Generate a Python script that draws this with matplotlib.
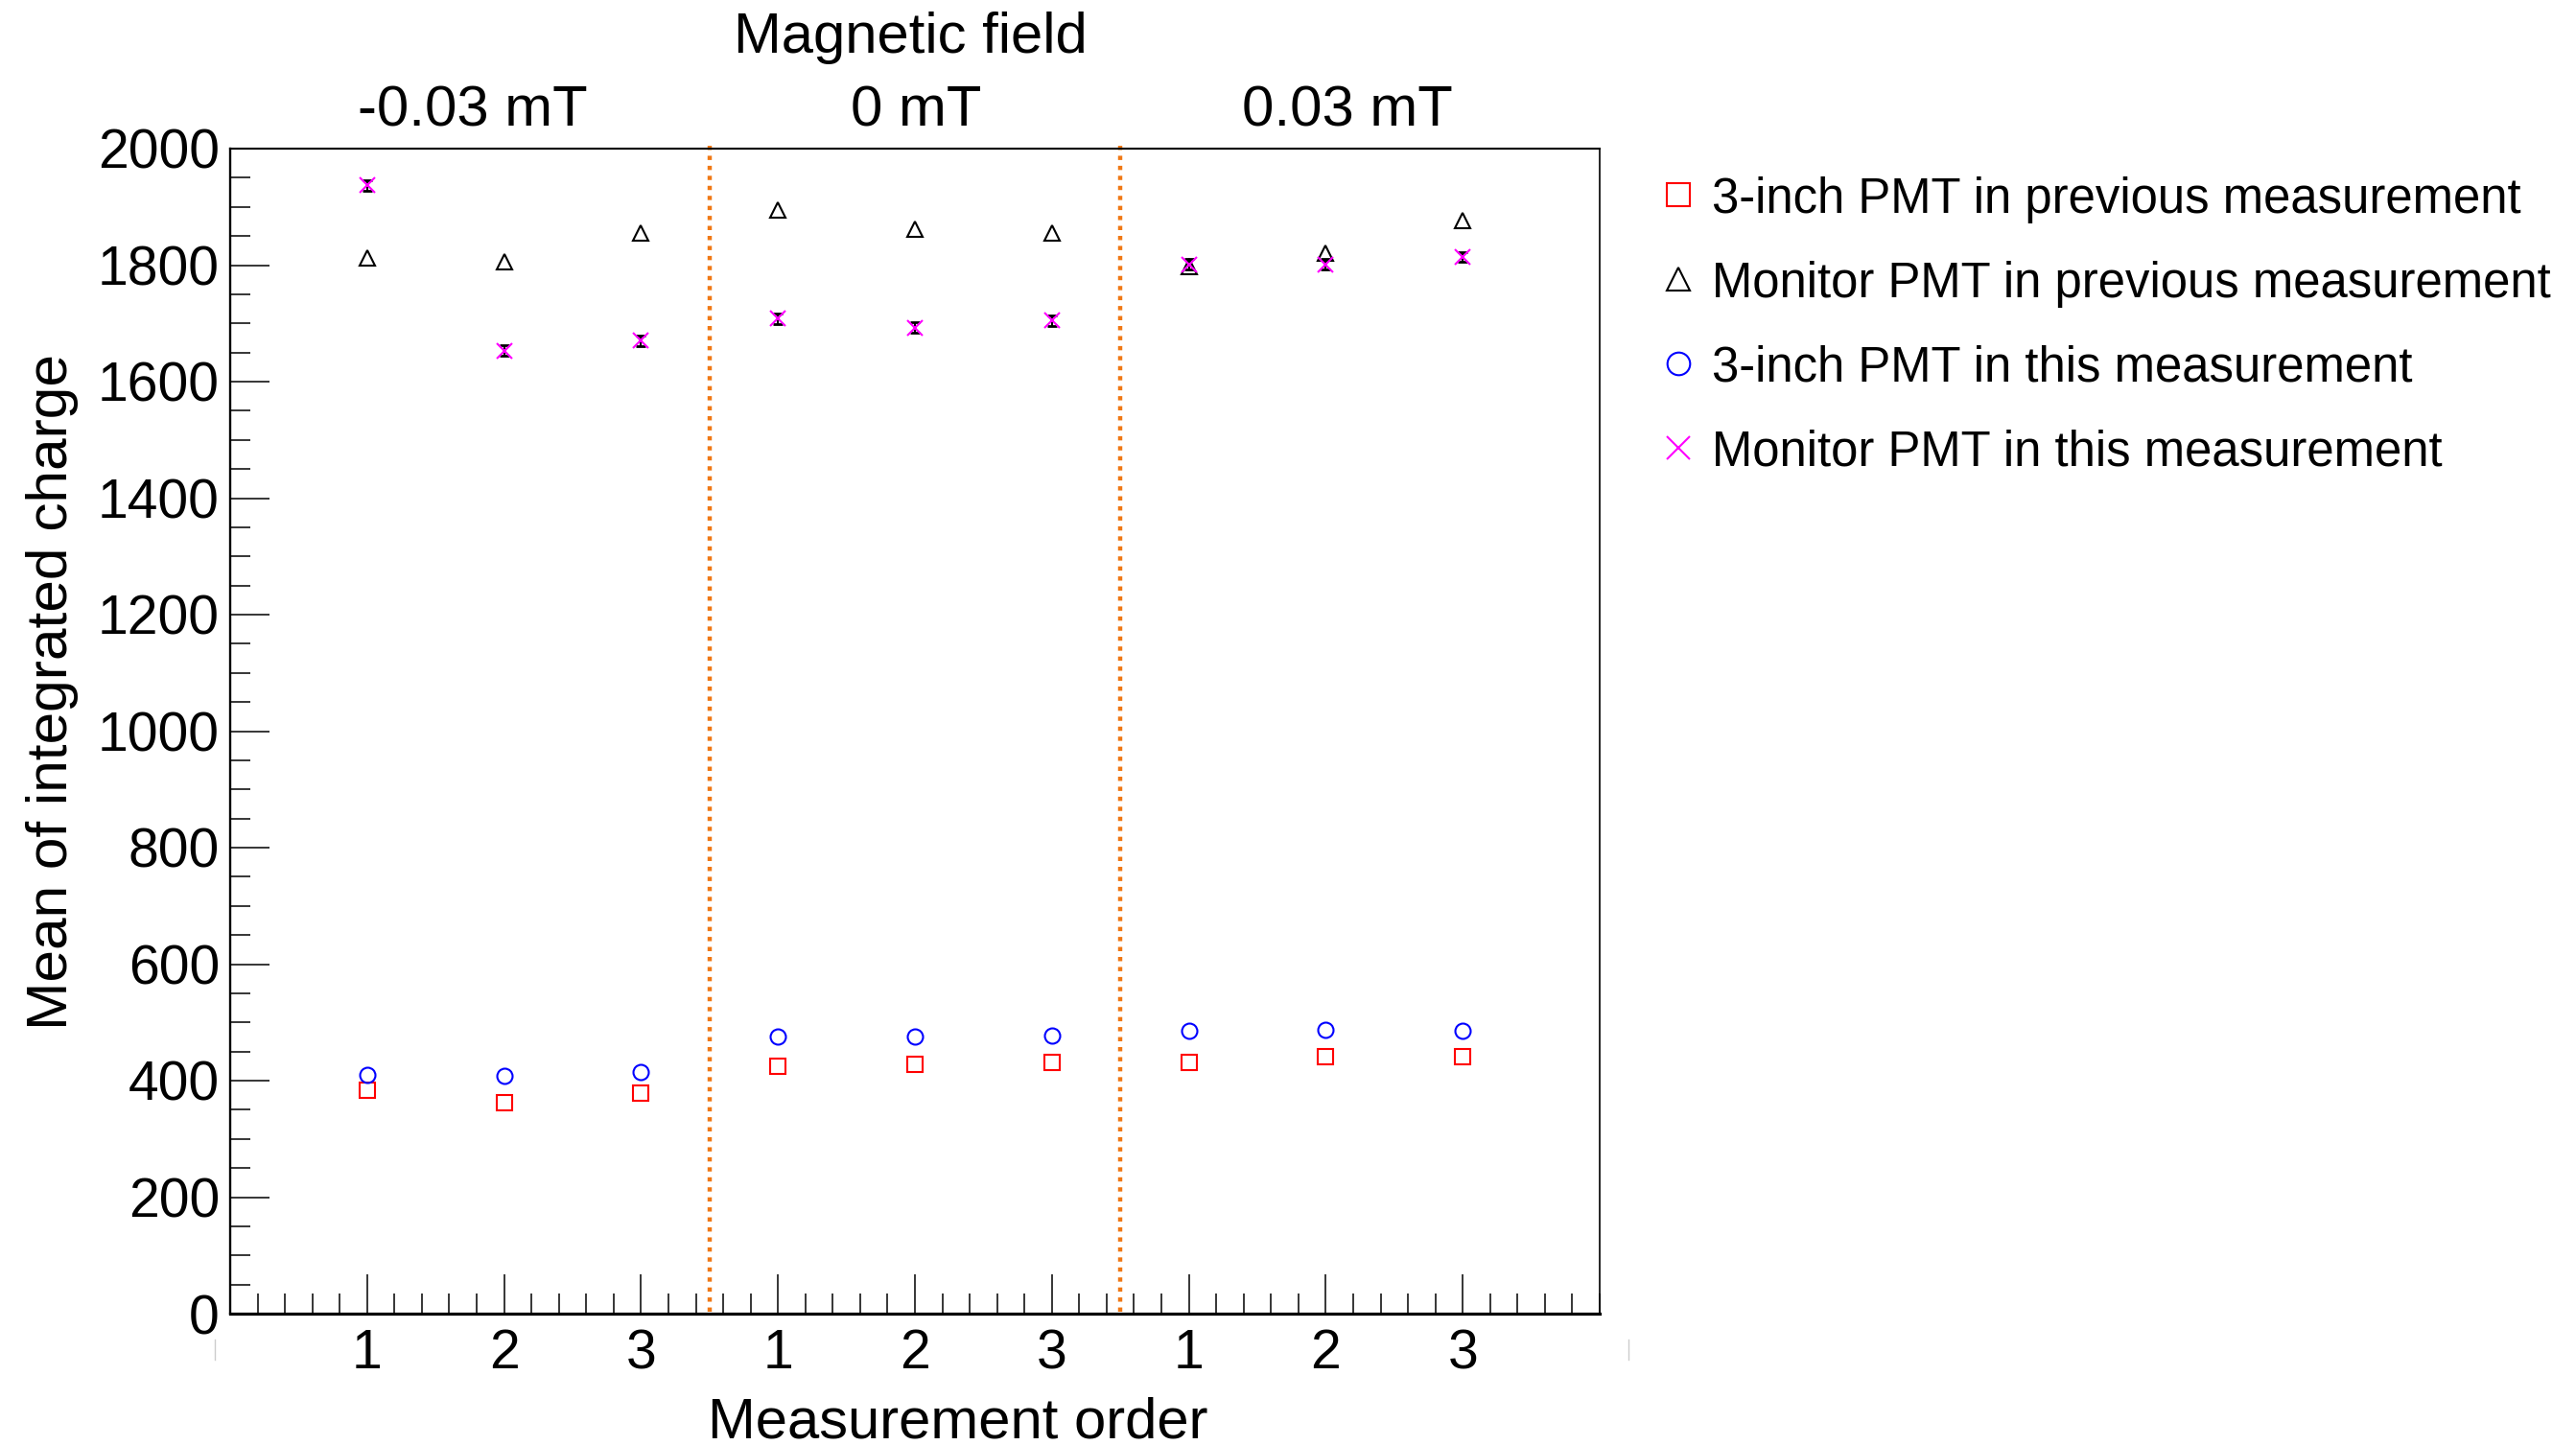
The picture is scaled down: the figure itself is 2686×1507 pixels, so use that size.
import numpy as np
import matplotlib.pyplot as plt
from matplotlib.lines import Line2D
from matplotlib.ticker import MultipleLocator, FixedLocator

plt.rcParams['font.family'] = ['Liberation Sans', 'DejaVu Sans']

# measurement order inside each magnetic field setting
order = [1, 2, 3, 1, 2, 3, 1, 2, 3]
xpos = np.arange(1, 10)
fields = ["-0.03 mT", "0 mT", "0.03 mT"]

prev_3inch = [384, 362, 378, 425, 428, 431, 431, 441, 441]
prev_monitor = [1813, 1805, 1855, 1895, 1861, 1855, 1798, 1820, 1876]
this_3inch = [410, 409, 415, 475, 475, 478, 485, 487, 485]
this_monitor = [1937, 1653, 1670, 1708, 1693, 1705, 1801, 1801, 1814]
this_monitor_err = [9, 9, 9, 9, 9, 9, 9, 9, 9]

labels = ["3-inch PMT in previous measurement",
          "Monitor PMT in previous measurement",
          "3-inch PMT in this measurement",
          "Monitor PMT in this measurement"]

W, H = 2686, 1507
fig = plt.figure(figsize=(W / 100, H / 100), dpi=100)
ax = fig.add_axes([240 / W, 1 - 1370 / H, (1668 - 240) / W, (1370 - 155) / H])

styles = [
    dict(marker='s', ms=11.5, mfc='none', mec='#ff0000', mew=1.5),
    dict(marker='^', ms=12, mfc='none', mec='black', mew=1.5),
    dict(marker='o', ms=11.5, mfc='none', mec='#0000ff', mew=1.5),
    dict(marker='x', ms=11.5, mfc='none', mec='#ff00ff', mew=1.5),
]

ax.plot(xpos, prev_3inch, ls='none', **styles[0])
ax.plot(xpos, prev_monitor, ls='none', **styles[1])
ax.plot(xpos, this_3inch, ls='none', **styles[2])
ax.errorbar(xpos, this_monitor, yerr=this_monitor_err, fmt='none',
            ecolor='black', elinewidth=1.5, capsize=3.6, capthick=2)
ax.plot(xpos, this_monitor, ls='none', **styles[3])

# dotted separators between field settings
for xb in [(xpos[2] + xpos[3]) / 2, (xpos[5] + xpos[6]) / 2]:
    ax.plot([xb, xb], [4, 2012], color='#f07814', lw=3.2,
            ls=(0, (1.0, 1.35)), clip_on=False, zorder=1)

ax.set_xlim(0, 10)
ax.set_ylim(0, 2000)
ax.xaxis.set_major_locator(FixedLocator(xpos))
ax.set_xticklabels([str(o) for o in order])
ax.xaxis.set_minor_locator(MultipleLocator(0.2))
ax.yaxis.set_major_locator(MultipleLocator(200))
ax.yaxis.set_minor_locator(MultipleLocator(50))
ax.tick_params(which='both', direction='in', top=False, right=False, width=1.1)
ax.tick_params(which='major', length=29.5)
ax.tick_params(which='minor', length=15)
ax.tick_params(axis='y', labelsize=41, pad=8)
ax.tick_params(axis='x', labelsize=41, pad=11)

ax.spines['bottom'].set_linewidth(2.3)
ax.spines['top'].set_linewidth(1.5)
ax.spines['left'].set_linewidth(1.7)
ax.spines['right'].set_linewidth(1.2)

fig.text(55 / W, 1 - 721 / H, "Mean of integrated charge", rotation=90,
         ha='center', va='center', fontsize=43.5)
fig.text(999 / W, 1 - 1500 / H, "Measurement order", ha='center',
         va='baseline', fontsize=43)
fig.text(949 / W, 1 - 55 / H, "Magnetic field", ha='center',
         va='baseline', fontsize=43)
for cx, name in zip([493, 955, 1405], fields):
    fig.text(cx / W, 1 - 132 / H, name, ha='center', va='baseline', fontsize=43)

# faint axis stubs below the frame
for sx in [224, 1698]:
    fig.add_artist(Line2D([sx / W, sx / W], [1 - 1397 / H, 1 - 1418 / H],
                          color='#cccccc', lw=1))

# legend on the right
for i, (st, lab) in enumerate(zip(styles, labels)):
    yy = 1 - (203 + 88 * i) / H
    big = dict(st, ms=17)
    fig.add_artist(Line2D([1750 / W], [yy], ls='none', **big))
    fig.text(1785 / W, yy, lab, ha='left', va='center_baseline', fontsize=36.6)

fig.savefig("out.png", dpi=100)
